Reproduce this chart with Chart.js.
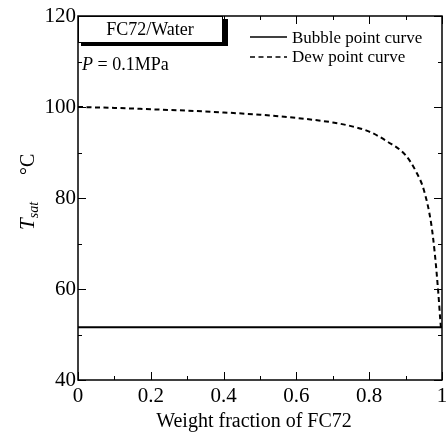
<!DOCTYPE html>
<html lang="en">
<head>
  <meta charset="UTF-8">
  <title>FC72/Water saturation temperature</title>
  <script src="https://cdn.jsdelivr.net/npm/chart.js"></script>
  <style>
    html, body {
      margin: 0;
      padding: 0;
      background: #fff;
    }
    canvas {
      display: block;
    }
  </style>
</head>
<body>
  <canvas id="satChart" width="446" height="434"></canvas>

  <script>
    // weight fraction of FC72 and saturation temperatures (degC)
    var bubbleX = [0, 1];
    var bubbleT = [51.6, 51.6];

    var dewX = [0, 0.1, 0.2, 0.3, 0.4, 0.5, 0.6, 0.7, 0.75, 0.8, 0.85, 0.9, 0.93, 0.95, 0.97, 0.98, 0.99, 0.995, 0.997];
    var dewT = [100, 99.8, 99.5, 99.2, 98.8, 98.3, 97.6, 96.6, 95.8, 94.6, 92.4, 89.4, 85.6, 81.8, 74.5, 68, 59, 53.5, 51.6];

    var xTicks = [0, 0.2, 0.4, 0.6, 0.8, 1];
    var yTicks = [40, 60, 80, 100, 120];

    var serif = "'Liberation Serif', 'Times New Roman', serif";

    function toPoints(xs, ys) {
      return xs.map(function (x, i) { return { x: x, y: ys[i] }; });
    }

    // frame, inward ticks, legend, notes and axis titles
    var decorations = {
      id: 'decorations',
      afterDatasetsDraw: function (chart) {
        var ctx = chart.ctx;
        var a = chart.chartArea;
        var xs = chart.scales.x;
        var ys = chart.scales.y;
        ctx.save();
        ctx.strokeStyle = '#000';
        ctx.fillStyle = '#000';

        // ticks
        ctx.lineWidth = 1;
        ctx.beginPath();
        for (var v = 0; v <= 10; v++) {
          var px = Math.round(xs.getPixelForValue(v / 10)) + 0.5;
          var len = v % 2 === 0 ? 8 : 4;
          ctx.moveTo(px, a.bottom); ctx.lineTo(px, a.bottom - len);
          ctx.moveTo(px, a.top); ctx.lineTo(px, a.top + len);
        }
        for (var t = 40; t <= 120; t += 10) {
          var py = Math.round(ys.getPixelForValue(t)) + 0.5;
          var ylen = t % 20 === 0 ? 8 : 4;
          ctx.moveTo(a.left, py); ctx.lineTo(a.left + ylen, py);
          ctx.moveTo(a.right, py); ctx.lineTo(a.right - ylen, py);
        }
        ctx.stroke();

        // frame
        ctx.lineWidth = 1.5;
        ctx.strokeRect(a.left, a.top, a.right - a.left, a.bottom - a.top);

        // mixture label box with shadow
        ctx.fillRect(a.left + 3, a.top + 3, 147, 27);
        ctx.fillStyle = '#fff';
        ctx.fillRect(a.left, a.top, 144, 26);
        ctx.lineWidth = 1;
        ctx.strokeRect(a.left + 0.5, a.top + 0.5, 144, 26);
        ctx.fillStyle = '#000';
        ctx.font = '18px ' + serif;
        ctx.textAlign = 'center';
        ctx.textBaseline = 'middle';
        ctx.fillText('FC72/Water', a.left + 72, a.top + 14);

        // pressure note
        ctx.textAlign = 'left';
        ctx.textBaseline = 'alphabetic';
        ctx.font = 'italic 18px ' + serif;
        ctx.fillText('P', 82, 70);
        var pw = ctx.measureText('P').width;
        ctx.font = '18px ' + serif;
        ctx.fillText(' = 0.1MPa', 82 + pw, 70);

        // legend
        ctx.lineWidth = 1.5;
        ctx.beginPath();
        ctx.moveTo(250, 37); ctx.lineTo(287, 37);
        ctx.stroke();
        ctx.setLineDash([5, 3.5]);
        ctx.beginPath();
        ctx.moveTo(250, 57); ctx.lineTo(287, 57);
        ctx.stroke();
        ctx.setLineDash([]);
        ctx.font = '17px ' + serif;
        ctx.fillText('Bubble point curve', 292, 43);
        ctx.fillText('Dew point curve', 292, 62);

        // x title
        ctx.font = '20px ' + serif;
        ctx.textAlign = 'center';
        ctx.fillText('Weight fraction of FC72', 254, 427);

        // y title, rotated
        ctx.translate(34, 191);
        ctx.rotate(-Math.PI / 2);
        ctx.textAlign = 'left';
        ctx.font = 'italic 21px ' + serif;
        ctx.fillText('T', -39, 0);
        var tw = ctx.measureText('T').width;
        ctx.font = 'italic 14px ' + serif;
        ctx.fillText('sat', -39 + tw, 4);
        ctx.font = '20px ' + serif;
        ctx.fillText('\u00b0C', 16, 0);
        ctx.restore();
      }
    };

    var chart = new Chart(document.getElementById('satChart').getContext('2d'), {
      type: 'line',
      data: {
        datasets: [{
          label: 'Bubble point curve',
          data: toPoints(bubbleX, bubbleT),
          borderColor: '#000',
          borderWidth: 2,
          pointRadius: 0,
          fill: false
        }, {
          label: 'Dew point curve',
          data: toPoints(dewX, dewT),
          borderColor: '#000',
          borderWidth: 2,
          borderDash: [5, 3.5],
          pointRadius: 0,
          cubicInterpolationMode: 'monotone',
          fill: false
        }]
      },
      options: {
        responsive: false,
        animation: false,
        layout: { padding: { top: 16, right: 4, left: 0, bottom: 0 } },
        plugins: {
          legend: { display: false },
          tooltip: { enabled: false }
        },
        scales: {
          x: {
            type: 'linear',
            min: 0,
            max: 1,
            afterBuildTicks: function (scale) {
              scale.ticks = xTicks.map(function (v) { return { value: v }; });
            },
            afterFit: function (scale) {
              scale.height = 54;
              scale.paddingLeft = 0;
              scale.paddingRight = 0;
            },
            grid: { display: false, drawTicks: false },
            border: { display: false },
            ticks: {
              color: '#000',
              padding: 4,
              maxRotation: 0,
              font: { family: serif, size: 21 },
              callback: function (value) { return String(Math.round(value * 10) / 10); }
            }
          },
          y: {
            type: 'linear',
            min: 40,
            max: 120,
            afterBuildTicks: function (scale) {
              scale.ticks = yTicks.map(function (v) { return { value: v }; });
            },
            afterFit: function (scale) {
              scale.width = 78;
              scale.paddingTop = 0;
              scale.paddingBottom = 0;
            },
            grid: { display: false, drawTicks: false },
            border: { display: false },
            ticks: {
              color: '#000',
              padding: 2,
              font: { family: serif, size: 21 }
            }
          }
        }
      },
      plugins: [decorations]
    });
  </script>
</body>
</html>
